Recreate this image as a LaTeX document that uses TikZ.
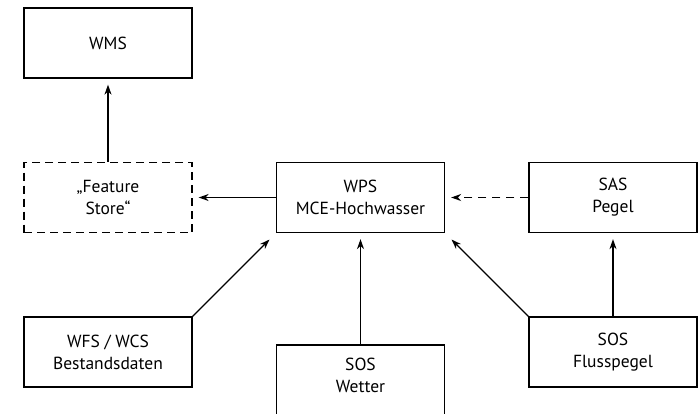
\documentclass[tikz,border=0pt]{standalone}
\usepackage{fontspec}
\setmainfont{PT Sans}
\usetikzlibrary{arrows.meta}

\tikzset{
    dienst/.style={draw, line width=1.3pt, minimum width=168pt, minimum height=70pt,
        align=center, inner sep=0pt, font=\fontsize{17.5}{22}\selectfont},
    entwurf/.style={dienst, dash pattern=on 8pt off 5pt},
    pfeil/.style={line width=1.3pt, -{Stealth[length=10pt,width=7pt]}, shorten >=6pt},
}

\begin{document}
\begin{tikzpicture}[x=1pt, y=-1pt]
    \useasboundingbox (0,0) rectangle (700,413);
    \clip (0,0) rectangle (700,413);

    % Dienste
    \node[dienst] (wms) at (108,43) {WMS};
    \node[entwurf] (store) at (108,197.5) {„Feature\\Store“};
    \node[dienst] (wps) at (360.5,197.5) {WPS\\MCE-Hochwasser};
    \node[dienst] (sas) at (613,197.5) {SAS\\Pegel};
    \node[dienst] (wfs) at (108,352) {WFS / WCS\\Bestandsdaten};
    \node[dienst, minimum height=110pt, text depth=50pt] (wetter) at (360.5,400) {SOS\\Wetter};
    \node[dienst] (fluss) at (613,352) {SOS\\Flusspegel};

    % Verbindungen
    \draw[pfeil] (store) -- (wms);
    \draw[pfeil] (wps) -- (store);
    \draw[pfeil, dash pattern=on 8pt off 6pt] (sas) -- (wps);
    \draw[pfeil, shorten >=9pt] (wfs.north east) -- (wps.south west);
    \draw[pfeil] (wetter) -- (wps);
    \draw[pfeil, shorten >=9pt] (fluss.north west) -- (wps.south east);
    \draw[pfeil] (fluss) -- (sas);
\end{tikzpicture}
\end{document}
